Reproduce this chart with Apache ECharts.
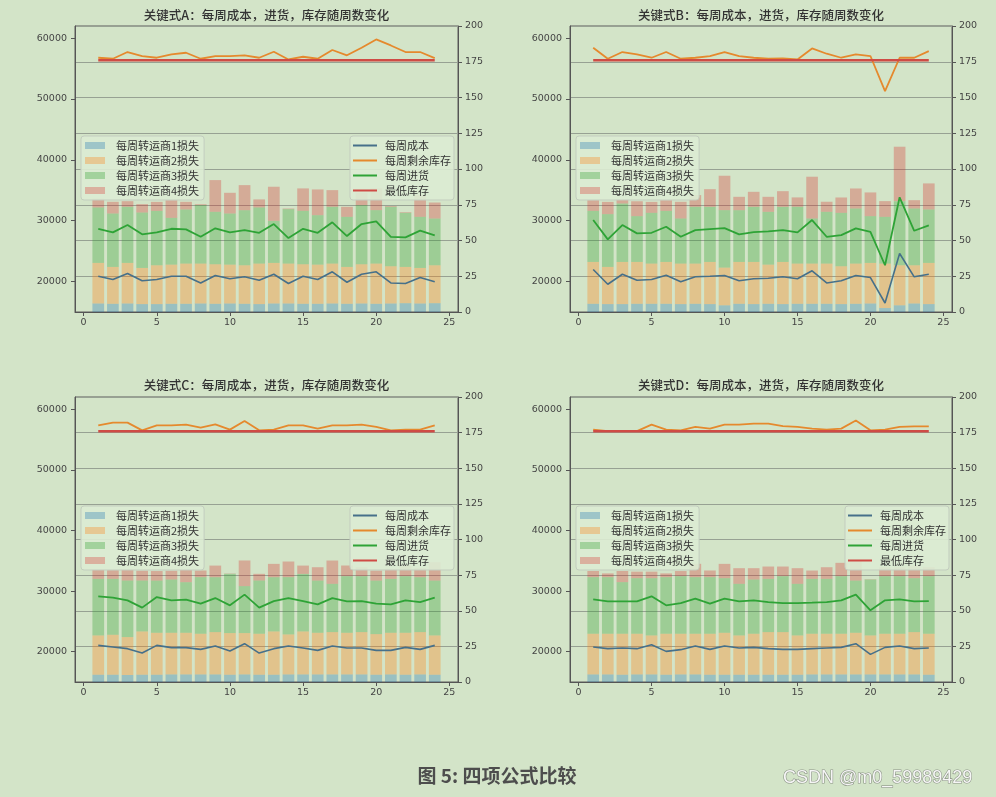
<!DOCTYPE html>
<html><head><meta charset="utf-8">
<script src="https://cdn.jsdelivr.net/npm/echarts@6/dist/echarts.min.js"></script>
<style>html,body{margin:0;padding:0;background:#d3e4c8}#c{width:996px;height:797px}</style>
</head><body><div id="c"></div>
<script>
// ---------- data ----------
const weeks = [1,2,3,4,5,6,7,8,9,10,11,12,13,14,15,16,17,18,19,20,21,22,23,24];
const barNames = ['每周转运商1损失','每周转运商2损失','每周转运商3损失','每周转运商4损失'];
const lineNames = ['每周成本','每周剩余库存','每周进货','最低库存'];
const panelTitles = ['关键式A：每周成本，进货，库存随周数变化','关键式B：每周成本，进货，库存随周数变化','关键式C：每周成本，进货，库存随周数变化','关键式D：每周成本，进货，库存随周数变化'];
const xTicks = [0,5,10,15,20,25];
const leftTicks = [20000,30000,40000,50000,60000];
const caption = '图 5: 四项公式比较';
const watermark = 'CSDN @m0_59989429';

// Panel A
const A_loss1 = [16400,16350,16400,16300,16300,16350,16350,16400,16350,16400,16350,16300,16400,16400,16350,16350,16400,16350,16400,16350,16400,16450,16400,16450];
const A_loss2 = [6670,6060,6670,5940,6380,6440,6610,6560,6500,6390,6330,6660,6670,6560,6500,6440,6560,6060,6450,6610,6120,5960,5840,6230];
const A_loss3 = [9110,8780,9220,9110,8940,7680,8890,9600,8620,8400,9050,9220,6910,8940,8780,8120,9330,8230,9710,8780,9770,8890,8400,7680];
const A_loss4 = [1430,1920,920,1370,1480,2910,1260,150,5210,3400,4120,1320,5600,100,3680,4230,2740,1650,2030,3570,120,100,3570,2630];
const A_cost = [25.0,22.7,26.9,21.8,22.7,25.0,25.0,20.3,25.5,23.2,24.6,22.2,26.4,19.9,25.0,22.7,28.1,20.8,26.4,28.1,20.3,19.9,24.1,21.1];
const A_stock = [177.8,177.1,181.8,179.0,177.8,180.1,181.3,177.1,179.0,179.0,179.5,177.8,182.0,176.6,178.5,177.1,183.2,179.5,184.8,190.6,186.4,181.8,181.8,177.5];
const A_buy = [58.2,55.7,60.8,54.3,55.7,58.2,57.8,52.6,58.5,55.7,57.3,55.4,61.5,51.7,58.2,55.4,62.7,53.1,61.5,63.4,52.6,52.2,56.9,53.6];
const A_min = [176,176,176,176,176,176,176,176,176,176,176,176,176,176,176,176,176,176,176,176,176,176,176,176];

// Panel B
const B_loss1 = [16350,16300,16300,16350,16350,16350,16300,16350,16300,16100,16350,16300,16350,16300,16350,16350,16350,16300,16350,16400,15650,16100,16400,16300];
const B_loss2 = [6880,6110,6930,6880,6610,6880,6660,6610,6930,6200,6880,6930,6440,6930,6610,6610,6610,6220,6610,6670,7310,6580,6280,6770];
const B_loss3 = [8390,8670,9600,7520,8340,8390,7410,9330,9050,9440,8500,9050,8670,9050,9330,7410,8510,8780,9050,7680,7680,10540,9330,8780];
const B_loss4 = [1760,2020,670,2450,1800,1760,2740,1920,2910,5650,2200,2470,2470,2580,1540,6860,1650,2520,3290,3900,2580,8940,1370,4280];
const B_cost = [29.7,19.4,26.4,22.2,22.7,25.7,21.1,24.6,25.0,25.5,21.8,23.2,23.6,24.6,23.2,28.8,20.3,21.8,25.5,24.1,6.3,40.9,24.6,26.4];
const B_stock = [184.8,177.1,181.8,180.1,177.8,181.8,177.1,177.8,179.0,181.8,179.0,177.8,177.1,177.3,176.6,184.3,180.6,177.8,180.1,179.0,154.4,177.8,177.8,182.4];
const B_buy = [64.3,50.8,60.8,55.0,55.4,59.6,52.6,57.3,58.0,58.7,54.3,55.9,56.4,57.3,55.7,64.3,52.6,53.8,58.5,56.1,32.7,80.2,56.8,60.6];
const B_min = [176,176,176,176,176,176,176,176,176,176,176,176,176,176,176,176,176,176,176,176,176,176,176,176];

// Panel C
const C_loss1 = [16200,16200,16150,16200,16200,16250,16250,16250,16250,16200,16250,16200,16200,16250,16250,16250,16250,16250,16250,16200,16250,16200,16250,16200];
const C_loss2 = [6480,6590,6260,7140,6920,6870,6870,6710,6980,6870,6820,6760,7140,6600,7090,6870,6980,6870,6980,6700,6870,6920,6980,6480];
const C_loss3 = [9330,9220,9330,8400,8610,8780,8340,9330,9050,9770,7740,8780,8940,9440,9490,8610,7960,9330,9220,8830,8890,9330,9050,9050];
const C_loss4 = [1490,1440,1770,1620,1570,1450,2040,1100,1920,50,4230,1100,2200,2580,1370,2200,3840,1760,1480,1650,1650,1760,1480,3020];
const C_cost = [25.7,24.6,23.4,20.3,25.7,24.1,24.1,22.9,25.3,21.8,26.9,20.3,23.4,25.3,23.9,22.2,25.3,23.9,23.9,22.2,22.2,24.3,22.9,25.7];
const C_stock = [180.1,182.0,182.0,176.6,180.1,180.1,180.6,178.5,180.8,177.1,183.2,176.6,177.1,180.1,180.1,177.8,180.1,180.1,180.6,179.0,176.6,177.1,177.1,180.1];
const C_buy = [60.1,59.2,57.3,52.2,59.6,57.3,57.8,55.0,58.9,53.8,61.3,52.2,56.8,58.9,56.8,54.5,58.9,56.6,56.8,55.0,54.5,57.3,56.1,59.2];
const C_min = [176,176,176,176,176,176,176,176,176,176,176,176,176,176,176,176,176,176,176,176,176,176,176,176];

// Panel D
const D_loss1 = [16250,16250,16200,16250,16250,16200,16250,16250,16200,16200,16200,16200,16200,16200,16200,16250,16250,16250,16250,16250,16250,16250,16250,16200];
const D_loss2 = [6710,6710,6760,6710,6430,6760,6710,6710,6760,6920,6480,6760,7030,7030,6480,6710,6710,6710,6870,6430,6710,6710,6980,6760];
const D_loss3 = [9330,9330,8510,9160,9440,9330,9490,9330,9330,9000,8510,8940,8780,9220,8510,9050,9050,9490,8610,9220,9490,9490,8890,9490];
const D_loss4 = [1020,620,1840,1080,1080,620,850,2200,1100,2360,2580,1870,2030,1590,2580,1370,1920,2200,3290,50,1480,1480,2090,1480];
const D_cost = [24.6,23.4,23.9,23.4,26.2,21.5,22.7,25.3,22.9,25.3,23.9,24.3,23.4,22.9,22.9,23.4,23.9,24.3,26.9,19.4,24.3,25.3,23.4,23.9];
const D_stock = [177.1,176.1,176.1,176.1,180.6,177.1,176.6,179.0,177.8,180.6,180.6,181.3,181.3,179.6,179.0,177.8,177.1,177.8,183.5,176.6,177.1,179.0,179.4,179.4];
const D_buy = [58.0,56.6,56.6,56.6,60.1,53.8,55.4,58.5,55.0,58.5,56.6,57.3,56.1,55.4,55.4,55.7,56.1,57.3,61.3,50.3,57.3,58.0,56.6,56.8];
const D_min = [176,176,176,176,176,176,176,176,176,176,176,176,176,176,176,176,176,176,176,176,176,176,176,176];

const panelData = [
  {loss:[A_loss1,A_loss2,A_loss3,A_loss4], lines:[A_cost,A_stock,A_buy,A_min]},
  {loss:[B_loss1,B_loss2,B_loss3,B_loss4], lines:[B_cost,B_stock,B_buy,B_min]},
  {loss:[C_loss1,C_loss2,C_loss3,C_loss4], lines:[C_cost,C_stock,C_buy,C_min]},
  {loss:[D_loss1,D_loss2,D_loss3,D_loss4], lines:[D_cost,D_stock,D_buy,D_min]}
];

// ---------- layout / style ----------
const layout = [
  {left:75, top:26, width:383, height:286, barLeg:[81,136], lineLeg:[350,136], titleX:266.5, titleY:15},
  {left:570, top:26, width:382, height:286, barLeg:[576,136], lineLeg:null, titleX:761, titleY:15},
  {left:75, top:397, width:383, height:285, barLeg:[81,506], lineLeg:[350,506], titleX:266.5, titleY:385},
  {left:570, top:397, width:382, height:285, barLeg:[576,506], lineLeg:[845,506], titleX:761, titleY:385}
];
const barColors = ['rgba(31,119,180,0.32)','rgba(255,127,14,0.32)','rgba(44,160,44,0.32)','rgba(214,39,40,0.30)'];
const lineColors = ['#46708a','#e5892d','#2ea336','#cf4b45'];
const lineWidths = [1.6,1.8,1.8,2.6];
const axisColor = '#555';
const labelStyle = {color:'#444', fontSize:9.5, fontFamily:'DejaVu Sans', formatter:v=>String(v)};
const XMIN = -0.59, XMAX = 25.59;

const option = {
  backgroundColor:'#d3e4c8',
  animation:false,
  grid:[], xAxis:[], yAxis:[], series:[], legend:[], graphic:[]
};

layout.forEach((L,k)=>{
  option.grid.push({left:L.left, top:L.top, width:L.width, height:L.height, show:true,
    borderColor:'#5c5c5c', borderWidth:1, backgroundColor:'transparent', containLabel:false});
  option.xAxis.push({type:'value', gridIndex:k, min:XMIN, max:XMAX,
    axisLine:{show:true, onZero:false, lineStyle:{color:axisColor}},
    axisTick:{show:true, length:4, customValues:xTicks, lineStyle:{color:axisColor}},
    axisLabel:Object.assign({customValues:xTicks, margin:6}, labelStyle),
    splitLine:{show:false}});
  option.yAxis.push({type:'value', gridIndex:k, position:'left', min:15000, max:62000,
    axisLine:{show:true, onZero:false, lineStyle:{color:axisColor}},
    axisTick:{show:true, length:4, customValues:leftTicks, lineStyle:{color:axisColor}},
    axisLabel:Object.assign({customValues:leftTicks, margin:8}, labelStyle),
    splitLine:{show:false}});
  option.yAxis.push({type:'value', gridIndex:k, position:'right', min:0, max:200, interval:25,
    axisLine:{show:true, onZero:false, lineStyle:{color:axisColor}},
    axisTick:{show:true, length:4, lineStyle:{color:axisColor}},
    axisLabel:Object.assign({margin:7}, labelStyle),
    splitLine:{show:true, lineStyle:{color:'#97a193', width:1}}});

  const barW = 0.8 * L.width / (XMAX - XMIN);
  panelData[k].loss.forEach((arr,j)=>{
    // value first so that the stacked dimension is the y value
    option.series.push({type:'bar', name:barNames[j], xAxisIndex:k, yAxisIndex:2*k, stack:'loss'+k,
      barWidth:barW, data:weeks.map((w,i)=>[arr[i], w]), encode:{x:1, y:0},
      itemStyle:{color:barColors[j]}, emphasis:{disabled:true}});
  });
  panelData[k].lines.forEach((arr,j)=>{
    option.series.push({type:'line', name:lineNames[j], xAxisIndex:k, yAxisIndex:2*k+1,
      data:weeks.map((w,i)=>[w, arr[i]]), symbol:'none', z:3,
      lineStyle:{color:lineColors[j], width:lineWidths[j]}, itemStyle:{color:lineColors[j]}});
  });

  const legBase = {orient:'vertical', selectedMode:false, z:20, itemGap:4,
    borderColor:'#c3cdbf', borderWidth:1, borderRadius:3, backgroundColor:'rgba(220,235,211,0.9)',
    textStyle:{fontSize:11, lineHeight:11, color:'#333', fontFamily:'Noto Sans CJK SC', padding:[0,0,0,6]}};
  option.legend.push(Object.assign({}, legBase, {left:L.barLeg[0], top:L.barLeg[1],
    padding:[4,5,4,4], itemWidth:20, itemHeight:7,
    data:barNames.map(n=>({name:n, icon:'rect'}))}));
  if (L.lineLeg) {
    option.legend.push(Object.assign({}, legBase, {left:L.lineLeg[0], top:L.lineLeg[1],
      padding:[4,3,4,3], itemWidth:24, itemHeight:2,
      textStyle:Object.assign({}, legBase.textStyle, {padding:[0,0,0,3]}),
      data:lineNames.map(n=>({name:n, icon:'rect'}))}));
  }
  option.graphic.push({type:'text', x:L.titleX, y:L.titleY, z:30,
    style:{text:panelTitles[k], fill:'#333', font:'500 12.5px "Noto Sans CJK SC"',
      align:'center', verticalAlign:'middle', textAlign:'center', textVerticalAlign:'middle'}});
});

option.graphic.push({type:'text', x:497, y:776, z:30,
  style:{text:caption, fill:'#4d4d4d', font:'bold 19px "Noto Sans CJK SC"',
    align:'center', verticalAlign:'middle', textAlign:'center', textVerticalAlign:'middle'}});
option.graphic.push({type:'text', x:783, y:778, z:30,
  style:{text:watermark, fill:'#f6f6f6', stroke:'rgba(80,80,80,0.55)', lineWidth:1.2,
    font:'18px "Liberation Sans"', align:'left', verticalAlign:'middle', textAlign:'left', textVerticalAlign:'middle'}});

const chart = echarts.init(document.getElementById('c'), null, {renderer:'canvas'});
chart.setOption(option);
</script>
</body></html>
